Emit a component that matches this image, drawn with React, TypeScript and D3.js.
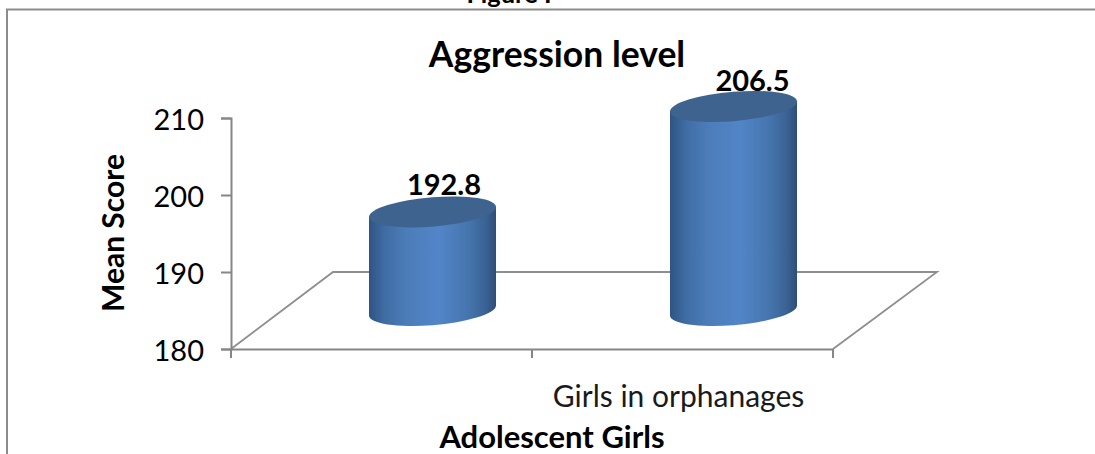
import React, { useEffect, useRef } from 'react';
import * as d3 from 'd3';

const categories = ['', 'Girls in orphanages'];
const meanScores = [192.8, 206.5];
const yTicks = [180, 190, 200, 210];
const chartTitle = 'Aggression level';
const figureCaption = 'Figure I';
const yAxisTitle = 'Mean Score';
const xAxisTitle = 'Adolescent Girls';

const FONT = 'Lato, Carlito, Calibri, sans-serif';
const AXIS = '#868686';

const App = () => {
  const svgRef = useRef<SVGSVGElement>(null);

  useEffect(() => {
    const svg = d3.select(svgRef.current);
    svg.selectAll('*').remove();

    const x = d3.scaleBand<string>().domain(categories).range([231, 833]);
    const y = d3.scaleLinear().domain([180, 210]).range([349, 118]);

    // floor depth of the fake 3D plot
    const depthX = 104;
    const depthY = y(180) - y(190);
    const barW = x.bandwidth() * 0.422;
    const rx = barW / 2;
    const ry = 14.7;
    const skew = (-Math.atan(10 / barW) * 180) / Math.PI;

    const defs = svg.append('defs');
    const grad = defs.append('linearGradient').attr('id', 'cyl');
    [
      [0, '#2e5483'],
      [0.12, '#3f6ca3'],
      [0.3, '#4c7db9'],
      [0.55, '#5285c8'],
      [0.78, '#4675ae'],
      [0.92, '#3a6294'],
      [1, '#2f4e78'],
    ].forEach(([o, c]) => grad.append('stop').attr('offset', o as number).attr('stop-color', c as string));

    // outer frame
    svg.append('path')
      .attr('d', 'M7,454V9.5H1095')
      .attr('fill', 'none')
      .attr('stroke', '#8c8c8c')
      .attr('stroke-width', 2);

    // floor
    const floor = d3.path();
    floor.moveTo(x.range()[0], y(180));
    floor.lineTo(x.range()[0] + depthX - 2, y(190));
    floor.lineTo(x.range()[1] + depthX, y(190));
    floor.lineTo(x.range()[1], y(180));
    svg.append('path')
      .attr('d', floor.toString())
      .attr('fill', 'none')
      .attr('stroke', '#8e8e8e')
      .attr('stroke-width', 1.8);

    // y axis
    svg.append('g')
      .attr('transform', `translate(${x.range()[0]},0)`)
      .call(d3.axisLeft(y).tickValues(yTicks).tickSize(10).tickPadding(17))
      .call(g => g.select('.domain').attr('stroke', AXIS).attr('stroke-width', 2))
      .call(g => g.selectAll('.tick line').attr('stroke', AXIS).attr('stroke-width', 2))
      .call(g => g.selectAll('.tick text')
        .attr('dy', 11.5)
        .attr('fill', '#000')
        .style('font-family', FONT)
        .style('font-size', '29px'));

    // x axis
    svg.append('g')
      .attr('transform', `translate(0,${y(180)})`)
      .call(d3.axisBottom(x).tickSize(0).tickPadding(37))
      .call(g => g.select('.domain').attr('stroke', AXIS).attr('stroke-width', 2))
      .call(g => g.selectAll('.tick text')
        .attr('dx', -4)
        .attr('fill', '#1a1a1a')
        .style('font-family', FONT)
        .style('font-size', '30px'));

    svg.append('g')
      .selectAll('line')
      .data([0, 1, 2])
      .join('line')
      .attr('x1', d => x.range()[0] + d * x.step())
      .attr('x2', d => x.range()[0] + d * x.step())
      .attr('y1', y(180))
      .attr('y2', y(180) + 9)
      .attr('stroke', AXIS)
      .attr('stroke-width', 2);

    // cylinders
    meanScores.forEach((v, i) => {
      const cx = x(categories[i])! + x.bandwidth() / 2 + depthX / 2 - 1;
      const topY = y(v) - depthY / 2;
      const baseY = y(180) - depthY / 2;
      const h = baseY - topY;
      const g = svg.append('g')
        .attr('transform', `translate(${cx},${topY}) skewY(${skew})`);
      g.append('path')
        .attr('d', `M${-rx},0V${h}A${rx},${ry} 0 0 0 ${rx},${h}V0Z`)
        .attr('fill', 'url(#cyl)');
      g.append('ellipse')
        .attr('rx', rx)
        .attr('ry', ry)
        .attr('fill', '#3e638f');

      svg.append('text')
        .attr('x', cx + (i === 0 ? 11.5 : 19))
        .attr('y', topY - (i === 0 ? 17 : 15))
        .attr('text-anchor', 'middle')
        .style('font-family', FONT)
        .style('font-size', '29px')
        .style('font-weight', 700)
        .text(v.toFixed(1));
    });

    // titles
    const bold = (tx: number, ty: number, size: number, s: string) =>
      svg.append('text')
        .attr('x', tx)
        .attr('y', ty)
        .attr('text-anchor', 'middle')
        .style('font-family', FONT)
        .style('font-size', `${size}px`)
        .style('font-weight', 700)
        .text(s);

    bold(509, 3, 25.5, figureCaption);
    bold(557, 66.5, 35.5, chartTitle);
    bold(552, 448, 31, xAxisTitle);
    bold(0, 0, 30, yAxisTitle).attr('transform', 'translate(124,233) rotate(-90)');
  }, []);

  return (
    <svg
      ref={svgRef}
      width={1095}
      height={454}
      style={{ position: 'absolute', left: 0, top: 0, background: '#fff', display: 'block' }}
    />
  );
};

export default App;
